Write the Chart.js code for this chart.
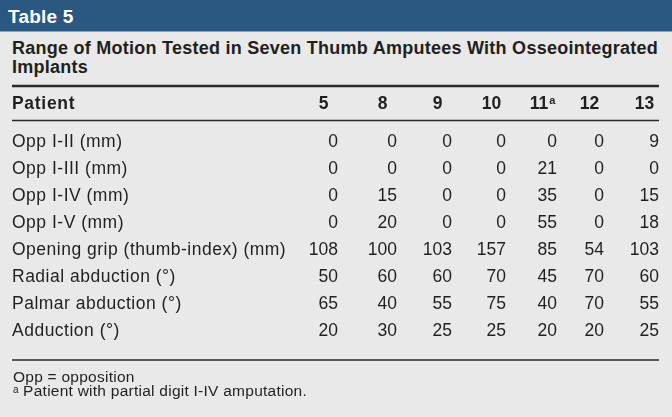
<!DOCTYPE html>
<html>
<head>
<meta charset="utf-8">
<script src="https://cdn.jsdelivr.net/npm/chart.js@4.4.1/dist/chart.umd.min.js"></script>
<style>
  html, body { margin: 0; padding: 0; background: #e8e9e8; }
  #wrap { position: relative; width: 672px; height: 417px; overflow: hidden;
          font-family: "Liberation Sans", Arial, Helvetica, sans-serif; color: #231f20; }
  #band { position: absolute; left: 0; top: 0; width: 672px; height: 31px;
          background: #2b5881; border-bottom: 1px solid #8aa2b8; }
  #band span { position: absolute; left: 8px; top: 7px; font-size: 19px; line-height: 19px;
               font-weight: bold; color: #fff; letter-spacing: 0.2px; }
  #title { position: absolute; left: 12px; top: 39px; font-size: 18px; line-height: 19px;
           font-weight: bold; white-space: nowrap; }
  #notes { position: absolute; left: 13px; top: 370px; font-size: 15.5px; line-height: 13.5px;
           letter-spacing: 0.25px; white-space: nowrap; }
  #notes .sup { font-size: 10px; position: relative; top: -3px; letter-spacing: 0; }
  canvas { position: absolute; left: 0; top: 0; }
</style>
</head>
<body>
<div id="wrap">
  <div id="band"><span>Table 5</span></div>
  <div id="title"><span id="t1">Range of Motion Tested in Seven Thumb Amputees With Osseointegrated</span><br><span id="t2">Implants</span></div>
  <canvas id="table-chart" width="672" height="417"></canvas>
  <div id="notes">Opp = opposition<br><span class="sup">a</span> Patient with partial digit I-IV amputation.</div>
</div>
<script>
// table data
const patients = ["5", "8", "9", "10", "11", "12", "13"];
const patientNotes = ["", "", "", "", "a", "", ""];
const measures = [
  "Opp I-II (mm)",
  "Opp I-III (mm)",
  "Opp I-IV (mm)",
  "Opp I-V (mm)",
  "Opening grip (thumb-index) (mm)",
  "Radial abduction (°)",
  "Palmar abduction (°)",
  "Adduction (°)",
];
const oppII = [0, 0, 0, 0, 0, 0, 9];
const oppIII = [0, 0, 0, 0, 21, 0, 0];
const oppIV = [0, 15, 0, 0, 35, 0, 15];
const oppV = [0, 20, 0, 0, 55, 0, 18];
const openingGrip = [108, 100, 103, 157, 85, 54, 103];
const radialAbduction = [50, 60, 60, 70, 45, 70, 60];
const palmarAbduction = [65, 40, 55, 75, 40, 70, 55];
const adduction = [20, 30, 25, 25, 20, 20, 25];
const rows = [oppII, oppIII, oppIV, oppV, openingGrip, radialAbduction, palmarAbduction, adduction];

// layout (pixels)
const colRight = [338, 397, 452, 506, 557, 604, 659];
const colHalf = 14.5;
const leftX = 12, rightX = 659;
const headBase = 108.5;
const ink = "#231f20";
const bodyFont = '17.5px "Liberation Sans", Arial, sans-serif';
const boldFont = 'bold 17.5px "Liberation Sans", Arial, sans-serif';

// stretch the title line to the table width
const t1 = document.getElementById("t1");
const w1 = t1.getBoundingClientRect().width;
const n1 = t1.textContent.length;
document.getElementById("title").style.letterSpacing = Math.max(0, (646 - w1) / n1) + "px";

const tablePlugin = {
  id: "tableText",
  afterDatasetsDraw(chart) {
    const ctx = chart.ctx;
    const xs = chart.scales.x, ys = chart.scales.y;
    ctx.save();
    ctx.fillStyle = ink;
    ctx.strokeStyle = "#2a2a2a";

    // rules
    ctx.lineWidth = 2.5;
    ctx.beginPath(); ctx.moveTo(leftX, 86); ctx.lineTo(rightX, 86); ctx.stroke();
    ctx.lineWidth = 1.6;
    ctx.beginPath(); ctx.moveTo(leftX, 120.5); ctx.lineTo(rightX, 120.5); ctx.stroke();
    ctx.beginPath(); ctx.moveTo(leftX, 360); ctx.lineTo(rightX, 360); ctx.stroke();

    // header row
    ctx.font = boldFont;
    ctx.textBaseline = "alphabetic";
    ctx.letterSpacing = "0.7px";
    ctx.textAlign = "left";
    ctx.fillText("Patient", leftX, headBase);
    ctx.letterSpacing = "0px";
    patients.forEach((p, j) => {
      const cx = xs.getPixelForValue(colRight[j] - colHalf);
      ctx.font = boldFont;
      const wMain = ctx.measureText(p).width;
      let wSup = 0;
      if (patientNotes[j]) {
        ctx.font = 'bold 11px "Liberation Sans", Arial, sans-serif';
        wSup = ctx.measureText(patientNotes[j]).width + 1;
      }
      const x0 = cx - (wMain + wSup) / 2;
      ctx.font = boldFont;
      ctx.textAlign = "left";
      ctx.fillText(p, x0, headBase);
      if (patientNotes[j]) {
        ctx.font = 'bold 11px "Liberation Sans", Arial, sans-serif';
        ctx.fillText(patientNotes[j], x0 + wMain + 1, headBase - 5);
      }
    });

    // row labels
    ctx.font = bodyFont;
    ctx.textAlign = "left";
    ctx.letterSpacing = "0.5px";
    measures.forEach((m, i) => {
      ctx.fillText(m, leftX, ys.getPixelForValue(i));
    });
    ctx.letterSpacing = "0px";

    // cells
    ctx.textAlign = "right";
    chart.data.datasets.forEach((ds, i) => {
      const meta = chart.getDatasetMeta(i);
      meta.data.forEach((el, j) => {
        ctx.fillText(String(ds.data[j].v), el.x, el.y);
      });
    });
    ctx.restore();
  },
};

const datasets = rows.map((vals, i) => ({
  label: measures[i],
  data: vals.map((v, j) => ({ x: colRight[j], y: measures[i], v: v })),
  pointRadius: 0,
  pointHoverRadius: 0,
  showLine: false,
}));

const rowTop = 146.7, rowStep = 27.1;
new Chart(document.getElementById("table-chart").getContext("2d"), {
  type: "scatter",
  data: { datasets: datasets },
  options: {
    responsive: false,
    animation: false,
    events: [],
    layout: {
      padding: { left: 0, right: 0, top: rowTop, bottom: 417 - (rowTop + rowStep * (measures.length - 1)) },
    },
    scales: {
      x: { type: "linear", min: 0, max: 672, display: false },
      y: { type: "category", labels: measures, offset: false, display: false },
    },
    plugins: {
      legend: { display: false },
      tooltip: { enabled: false },
    },
  },
  plugins: [tablePlugin],
});
</script>
</body>
</html>
